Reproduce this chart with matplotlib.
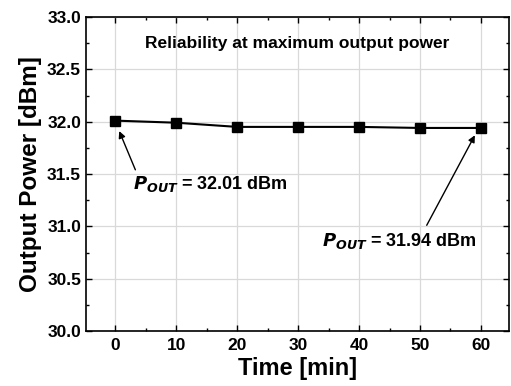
import matplotlib
matplotlib.use("Agg")
import matplotlib.pyplot as plt
from matplotlib.ticker import MultipleLocator, FormatStrFormatter

plt.rcParams['font.family'] = ['Liberation Sans', 'DejaVu Sans']
plt.rcParams['font.weight'] = 'bold'

time_min = [0, 10, 20, 30, 40, 50, 60]
pout_dbm = [32.01, 31.99, 31.95, 31.95, 31.95, 31.94, 31.94]

fig = plt.figure(figsize=(5.11, 3.86), dpi=100)
ax = fig.add_axes([86/511, 1-331/386, (509-86)/511, (331-17)/386])

ax.plot(time_min, pout_dbm, color='black', lw=1.5, marker='s', ms=7, zorder=3)

ax.set_xlim(-4.8, 64.6)
ax.set_ylim(30.0, 33.0)
ax.xaxis.set_major_locator(MultipleLocator(10))
ax.xaxis.set_minor_locator(MultipleLocator(5))
ax.yaxis.set_major_locator(MultipleLocator(0.5))
ax.yaxis.set_minor_locator(MultipleLocator(0.25))
ax.yaxis.set_major_formatter(FormatStrFormatter('%.1f'))
ax.grid(True, which='major', color='#d9d9d9', lw=0.9, zorder=0)
ax.tick_params(which='both', direction='in', top=True, right=True, labelsize=12.5)
ax.tick_params(which='major', length=4, width=1)
ax.tick_params(which='minor', length=2.5, width=1)
ax.tick_params(axis='x', pad=5)
for s in ax.spines.values():
    s.set_linewidth(1.2)
for lab in ax.get_xticklabels() + ax.get_yticklabels():
    lab.set_fontweight('bold')

ax.set_xlabel('Time [min]', fontsize=17, fontweight='bold', labelpad=3)
ax.set_ylabel('Output Power [dBm]', fontsize=17.5, fontweight='bold', labelpad=4)

ax.text(0.5, 0.915, 'Reliability at maximum output power', transform=ax.transAxes,
        ha='center', va='center', fontsize=12.5, fontweight='bold')

arrow = dict(arrowstyle='-|>', color='black', lw=1, shrinkA=0, shrinkB=0, mutation_scale=10)

ax.annotate('', xy=(0.65, 31.91), xytext=(3.3, 31.54), arrowprops=arrow)
ax.text(2.9, 31.4, r'$\boldsymbol{P}_{\boldsymbol{OUT}}$ = 32.01 dBm', fontsize=13,
        fontweight='bold', ha='left', va='center')

ax.annotate('', xy=(59.0, 31.87), xytext=(51.1, 31.01), arrowprops=arrow)
ax.text(34.0, 30.86, r'$\boldsymbol{P}_{\boldsymbol{OUT}}$ = 31.94 dBm', fontsize=13,
        fontweight='bold', ha='left', va='center')

fig.savefig('out.png', dpi=100)
